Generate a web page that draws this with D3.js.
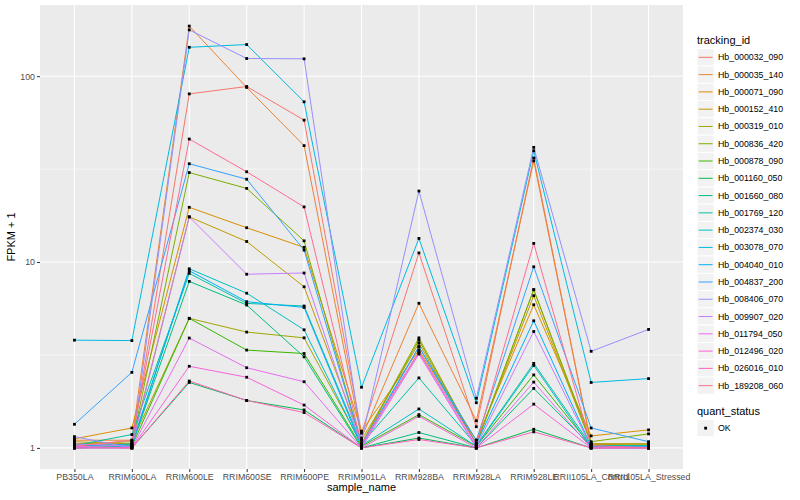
<!DOCTYPE html>
<html><head><meta charset="utf-8">
<script src="https://cdn.jsdelivr.net/npm/d3@7"></script>
<style>body{margin:0;background:#fff;} text{font-family:"Liberation Sans",Arial,Helvetica,sans-serif;}</style>
</head><body><svg id="c" width="800" height="500"></svg>
<script>
const samples = ["PB350LA","RRIM600LA","RRIM600LE","RRIM600SE","RRIM600PE","RRIM901LA","RRIM928BA","RRIM928LA","RRIM928LE","RRII105LA_Control","RRII105LA_Stressed"];
const trackingIds = ["Hb_000032_090","Hb_000035_140","Hb_000071_090","Hb_000152_410","Hb_000319_010","Hb_000836_420","Hb_000878_090","Hb_001160_050","Hb_001660_080","Hb_001769_120","Hb_002374_030","Hb_003078_070","Hb_004040_010","Hb_004837_200","Hb_008406_070","Hb_009907_020","Hb_011794_050","Hb_012496_020","Hb_026016_010","Hb_189208_060"];
const colors = ["#F8766D","#EA8331","#D89000","#C09B00","#A3A500","#7CAE00","#39B600","#00BB4E","#00BF7D","#00C1A3","#00BFC4","#00BAE0","#00B0F6","#35A2FF","#9590FF","#C77CFF","#E76BF3","#FA62DB","#FF62BC","#FF6C91"];
// FPKM + 1 per tracking id, in sample order
const v000032 = [1.05,1.05,80.3,88,58,1.2,11.2,1.3,36.3,1.05,1.02];
const v000035 = [1.1,1.1,186,87,42.3,1.13,6.0,1.4,35,1.05,1.05];
const v000071 = [1.12,1.28,19.7,15.3,12.0,1.23,3.36,1.1,5.89,1.16,1.25];
const v000152 = [1.08,1.05,17.5,12.9,7.36,1.1,3.66,1.05,6.59,1.05,1.05];
const v000319 = [1.05,1.08,4.98,4.2,3.91,1.05,3.91,1.05,7.1,1.05,1.05];
const v000836 = [1.02,1.05,30.3,24.9,13.0,1.05,3.8,1.05,7.1,1.08,1.19];
const v000878 = [1.0,1.02,4.98,3.36,3.22,1.02,1.51,1.02,2.47,1.02,1.02];
const v001160 = [1.0,1.0,2.25,1.8,1.6,1.0,1.13,1.0,1.26,1.0,1.0];
const v001660 = [1.02,1.03,7.87,5.87,3.09,1.0,1.21,1.0,2.09,1.02,1.02];
const v001769 = [1.03,1.18,8.69,5.99,5.8,1.05,2.38,1.03,2.85,1.03,1.03];
const v002374 = [1.0,1.02,9.2,6.8,4.32,1.03,1.62,1.02,2.78,1.0,1.0];
const v003078 = [3.8,3.78,143,148,72.8,2.12,13.4,1.75,39.7,2.25,2.36];
const v004040 = [1.02,1.05,8.98,6.12,5.7,1.02,3.5,1.05,4.83,1.02,1.02];
const v004837 = [1.34,2.55,33.8,27.9,11.6,1.05,3.5,1.1,9.43,1.28,1.08];
const v008406 = [1.15,1.0,177.5,124.5,124,1.1,24.1,1.85,41.4,3.31,4.34];
const v009907 = [1.05,1.02,17.5,8.6,8.73,1.02,3.26,1.02,4.23,1.01,1.01];
const v011794 = [1.0,1.0,3.9,2.7,2.27,1.0,3.2,1.0,2.26,1.0,1.0];
const v012496 = [1.02,1.0,2.75,2.4,1.7,1.0,1.48,1.0,1.72,1.0,1.0];
const v026016 = [1.0,1.0,2.29,1.8,1.55,1.0,1.11,1.0,1.22,1.0,1.0];
const v189208 = [1.02,1.1,45.9,30.6,19.8,1.05,3.3,1.05,12.6,1.03,1.0];
const yTicks = [1,10,100];
const statusLevels = ["OK"];

const seriesValues = [v000032,v000035,v000071,v000152,v000319,v000836,v000878,v001160,v001660,v001769,v002374,v003078,v004040,v004837,v008406,v009907,v011794,v012496,v026016,v189208];
const series = trackingIds.map((id,i)=>({id, color:colors[i], values:seriesValues[i]}));

const svg = d3.select("#c");
const P = {l:40, r:683, t:5, b:469};
const x = d3.scalePoint().domain(samples).range([P.l,P.r]).padding(0.6);
const all = seriesValues.flat();
const lmin = Math.log10(d3.min(all)), lmax = Math.log10(d3.max(all));
const ex = (lmax-lmin)*0.05;
const y = d3.scaleLog().domain([Math.pow(10,lmin-ex), Math.pow(10,lmax+ex)]).range([P.b,P.t]);

svg.append("rect").attr("x",P.l).attr("y",P.t).attr("width",P.r-P.l).attr("height",P.b-P.t).attr("fill","#EBEBEB");
// minor grid
const minor = [Math.sqrt(10), Math.sqrt(1000)];
svg.selectAll(".mg").data(minor).join("line").attr("x1",P.l).attr("x2",P.r)
  .attr("y1",d=>y(d)).attr("y2",d=>y(d)).attr("stroke","#fff").attr("stroke-width",0.6);
svg.selectAll(".yg").data(yTicks).join("line").attr("x1",P.l).attr("x2",P.r)
  .attr("y1",d=>y(d)).attr("y2",d=>y(d)).attr("stroke","#fff").attr("stroke-width",1.1);
svg.selectAll(".xg").data(samples).join("line").attr("y1",P.t).attr("y2",P.b)
  .attr("x1",d=>x(d)).attr("x2",d=>x(d)).attr("stroke","#fff").attr("stroke-width",1.1);

const line = d3.line().x((d,i)=>x(samples[i])).y(d=>y(d));
svg.append("g").selectAll("path").data(series).join("path")
  .attr("d",d=>line(d.values)).attr("fill","none").attr("stroke",d=>d.color).attr("stroke-width",1);
const pts = series.flatMap(s=>s.values.map((v,i)=>({s:samples[i],v})));
svg.append("g").selectAll("rect").data(pts).join("rect")
  .attr("x",d=>x(d.s)-1.4).attr("y",d=>y(d.v)-1.4).attr("width",2.8).attr("height",2.8).attr("fill","#000");

// axes
const xa = svg.append("g").attr("transform",`translate(0,${P.b})`).call(d3.axisBottom(x).tickSize(3).tickPadding(2));
const ya = svg.append("g").attr("transform",`translate(${P.l},0)`).call(d3.axisLeft(y).tickValues(yTicks).tickFormat(d3.format("d")).tickSize(3).tickPadding(2));
[xa,ya].forEach(a=>{a.select(".domain").remove();a.selectAll(".tick line").attr("stroke","#333");
  a.selectAll(".tick text").attr("fill","#4D4D4D").style("font-size","8.8px");});

svg.append("text").attr("x",(P.l+P.r)/2).attr("y",491).attr("text-anchor","middle").style("font-size","11px").text("sample_name");
svg.append("text").attr("transform",`translate(15,${(P.t+P.b)/2}) rotate(-90)`).attr("text-anchor","middle").style("font-size","11px").text("FPKM + 1");

// legends
const lg = svg.append("g");
lg.append("text").attr("x",697).attr("y",44).style("font-size","11px").text("tracking_id");
const kh = 17.28, k0 = 48.7;
series.forEach((s,i)=>{
  const yy = k0 + i*kh;
  lg.append("rect").attr("x",697).attr("y",yy).attr("width",17.28).attr("height",kh).attr("fill","#F2F2F2").attr("stroke","#fff").attr("stroke-width",1);
  lg.append("line").attr("x1",698.7).attr("x2",712.6).attr("y1",yy+kh/2).attr("y2",yy+kh/2).attr("stroke",s.color).attr("stroke-width",1);
  lg.append("text").attr("x",718).attr("y",yy+kh/2+3).style("font-size","8.8px").attr("fill","#000").text(s.id);
});
lg.append("text").attr("x",697).attr("y",415).style("font-size","11px").text("quant_status");
statusLevels.forEach((s,i)=>{
  const yy = 419.5 + i*kh;
  lg.append("rect").attr("x",697).attr("y",yy).attr("width",17.28).attr("height",kh).attr("fill","#F2F2F2").attr("stroke","#fff");
  lg.append("rect").attr("x",697+8.64-1.4).attr("y",yy+kh/2-1.4).attr("width",2.8).attr("height",2.8).attr("fill","#000");
  lg.append("text").attr("x",718).attr("y",yy+kh/2+3).style("font-size","8.8px").text(s);
});
</script></body></html>
